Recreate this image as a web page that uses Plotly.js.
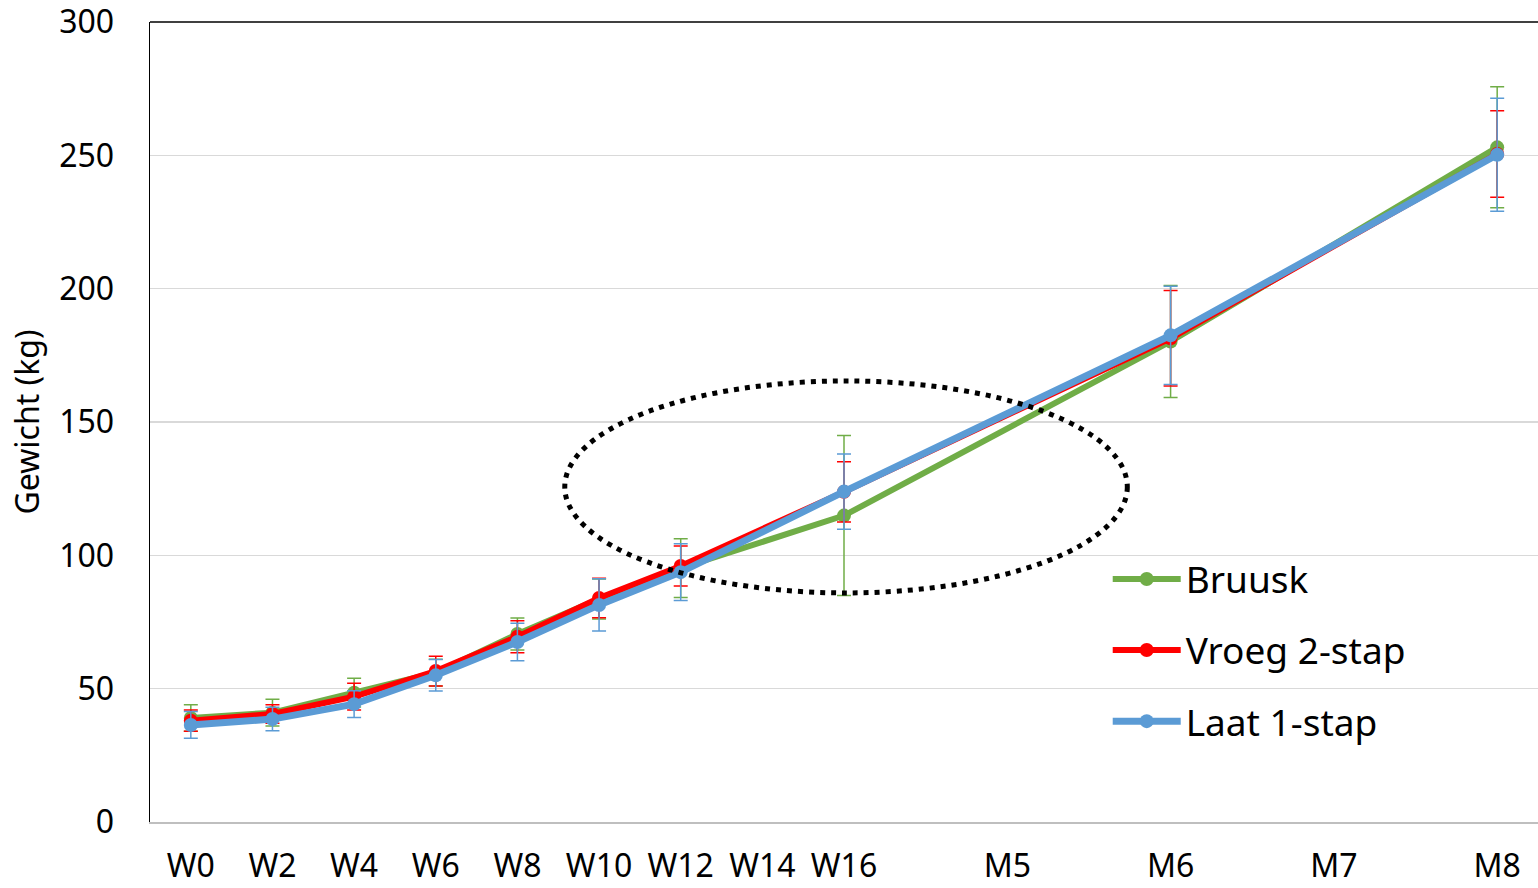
<!DOCTYPE html>
<html>
<head>
<meta charset="utf-8">
<script src="https://cdn.plot.ly/plotly-3.0.1.min.js"></script>
<style>html,body{margin:0;padding:0;background:#fff;}#chart{width:1538px;height:888px;}</style>
</head>
<body>
<div id="chart"></div>
<script>
// Categories (blank entries are unlabeled slots on the axis)
const categories = ["W0","W2","W4","W6","W8","W10","W12","W14","W16","","M5","","M6","","M7","","M8"];

// Series values (kg); null = no measurement
const bruusk = [39, 41, 48.5, 56, 70.5, 83.6, 95.2, null, 114.9, null, null, null, 180.2, null, null, null, 253];
const vroeg  = [38, 40.5, 47, 56.6, 69.5, 84, 96, null, 123.8, null, null, null, 181.4, null, null, null, 250.5];
const laat   = [36.4, 38.6, 44.2, 55, 67.5, 81.4, 93.7, null, 123.9, null, null, null, 182.5, null, null, null, 250.2];

// Error bars (+/-)
const bruuskErr = [5, 5, 5.4, 5, 6, 7.5, 11, null, 30, null, null, null, 21, null, null, null, 22.7];
const vroegErr  = [4, 3.5, 5, 5.6, 6, 7.4, 7.5, null, 11.3, null, null, null, 17.9, null, null, null, 16.2];
const laatErr   = [5, 4.4, 5, 5.9, 7, 9.8, 10.6, null, 14.1, null, null, null, 18.4, null, null, null, 21.2];

const seriesNames = ["Bruusk", "Vroeg 2-stap", "Laat 1-stap"];
const yTicks = [0, 50, 100, 150, 200, 250, 300];

const xIdx = categories.map((c, i) => i);
const tickvals = [], ticktext = [];
categories.forEach((c, i) => { if (c !== "") { tickvals.push(i); ticktext.push(c); } });

function mk(name, y, err, color, lw) {
  return {
    type: "scatter", mode: "lines+markers", name: name,
    x: xIdx, y: y, connectgaps: true,
    legendgroup: name,
    line: {color: color, width: lw},
    marker: {color: color, size: 14},
    error_y: {type: "data", array: err, visible: true, color: color, thickness: 1.5, width: 7}
  };
}

const data = [
  mk(seriesNames[0], bruusk, bruuskErr, "#70AD47", 6),
  mk(seriesNames[1], vroeg, vroegErr, "#FF0000", 6),
  mk(seriesNames[2], laat, laatErr, "#5B9BD5", 7)
];

const font = "Noto Sans, Open Sans, sans-serif";

const layout = {
  width: 1538, height: 888,
  margin: {l: 150, r: 0, t: 22, b: 66},
  paper_bgcolor: "#fff", plot_bgcolor: "#fff",
  showlegend: true,
  font: {family: font, color: "#000"},
  xaxis: {
    range: [-0.5, 16.5], tickmode: "array", tickvals: tickvals, ticktext: ticktext,
    showgrid: false, zeroline: false, showline: true, linecolor: "#bfbfbf", linewidth: 2,
    ticks: "", ticklabelstandoff: 15, automargin: false, ticklabeloverflow: "allow",
    tickfont: {size: 32, family: font, color: "#000"}
  },
  yaxis: {
    range: [0, 300], tickmode: "array", tickvals: yTicks,
    showgrid: true, gridcolor: "#d9d9d9", gridwidth: 1.3,
    zeroline: false, showline: true, linecolor: "#000", linewidth: 1.5,
    ticks: "", ticklabelstandoff: 28, automargin: false, ticklabeloverflow: "allow",
    tickfont: {size: 32, family: font, color: "#000"},
    title: {text: "Gewicht (kg)", font: {size: 32, family: font, color: "#000"}, standoff: 10}
  },
  legend: {
    x: 0.690, y: 0.342, xanchor: "left", yanchor: "top",
    bgcolor: "rgba(255,255,255,0)", borderwidth: 0,
    font: {size: 37, family: font, color: "#000"},
    tracegroupgap: 20, itemwidth: 68
  },
  shapes: [
    {type: "line", xref: "paper", yref: "paper", x0: 0, x1: 1, y0: 1, y1: 1,
     line: {color: "#000", width: 1.5}},
    {type: "circle", xref: "x", yref: "y", x0: 4.58, x1: 11.47, y0: 85.9, y1: 165.4,
     line: {color: "#000", width: 5, dash: "5px,6px"}}
  ]
};

Plotly.newPlot("chart", data, layout, {displayModeBar: false, staticPlot: true});
</script>
</body>
</html>
